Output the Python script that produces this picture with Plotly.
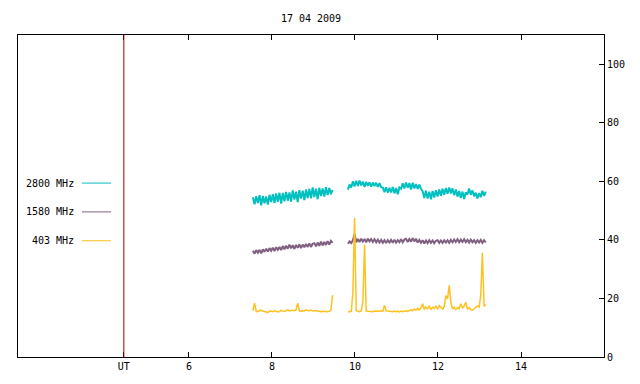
import plotly.graph_objects as go

# ---- data ----
title_text = "17 04 2009"
sample_step_h = 0.04
seg1_start_h = 7.54
seg2_start_h = 9.83
ut_marker_h = 4.43

x_tick_vals = [ut_marker_h, 6, 8, 10, 12, 14]
x_tick_text = ["UT", "6", "8", "10", "12", "14"]
y_tick_vals = [0, 20, 40, 60, 80, 100]

series_names = ["2800 MHz", "1580 MHz", "403 MHz"]
series_colors = ["#00c0c0", "#806080", "#ffc020"]
series_widths = [2, 2, 1.5]

f2800_seg1 = [54.6, 52.2, 54.9, 52.6, 55.3, 51.8, 55.0, 52.5, 54.8, 52.1, 55.4, 52.9, 55.6, 52.6,
              55.9, 53.0, 56.1, 52.4, 56.0, 53.2, 56.4, 53.4, 56.2, 53.1, 56.9, 53.8, 56.5, 52.9,
              57.0, 54.1, 56.8, 53.6, 57.2, 54.3, 57.4, 54.2, 57.9, 54.6, 57.5, 53.9, 57.8, 55.0,
              57.6, 54.8, 58.0, 55.3, 57.7, 55.6, 57.1]
f2800_seg2 = [57.2, 58.9, 57.9, 60.0, 58.3, 60.2, 58.4, 60.3, 58.6, 59.9, 58.1, 59.8, 58.5, 59.7,
              58.2, 59.6, 58.4, 59.5, 58.1, 59.4, 58.0, 57.9, 56.3, 58.0, 56.1, 57.8, 56.2, 58.1,
              55.9, 57.7, 55.6, 57.9, 57.5, 59.3, 57.6, 59.6, 57.8, 59.4, 57.2, 59.5, 57.6, 59.1,
              57.4, 58.9, 57.5, 56.6, 54.3, 56.8, 54.1, 56.5, 53.9, 56.7, 54.5, 57.0, 54.8, 57.2,
              55.1, 57.5, 55.4, 57.7, 55.8, 57.9, 55.9, 57.6, 55.3, 57.2, 54.8, 56.7, 54.3, 56.5,
              54.0, 56.2, 55.5, 57.6, 55.4, 56.9, 54.9, 56.1, 54.2, 56.0, 54.6, 56.8, 55.0, 56.5]

f1580_seg1 = [36.3, 35.3, 36.5, 35.6, 36.6, 35.4, 36.8, 35.9, 37.0, 36.0, 37.2, 36.3, 37.3, 36.2,
              37.5, 36.6, 37.6, 36.5, 37.9, 36.8, 38.0, 37.0, 38.4, 37.1, 38.2, 36.9, 38.3, 37.3,
              38.5, 37.2, 38.4, 37.5, 38.6, 37.6, 38.8, 37.6, 38.7, 38.9, 37.8, 39.1, 38.0, 39.4,
              38.1, 39.3, 38.3, 39.6, 38.4, 39.7, 39.0]
f1580_seg2 = [38.7, 39.5, 38.9, 39.9, 42.0, 39.2, 40.3, 39.3, 40.4, 39.4, 40.3, 39.2, 40.4, 39.5,
              40.3, 39.3, 40.2, 39.2, 40.1, 39.1, 40.0, 39.0, 39.9, 38.9, 39.9, 39.1, 40.0, 39.0,
              40.1, 39.1, 39.9, 39.2, 40.2, 39.2, 40.1, 40.4, 39.3, 40.3, 39.4, 40.6, 39.5, 40.4,
              39.1, 40.0, 39.0, 39.9, 38.8, 39.8, 38.9, 39.9, 39.0, 39.8, 38.9, 39.7, 39.9, 39.0,
              39.8, 39.0, 39.9, 39.1, 39.9, 39.0, 40.0, 39.2, 40.1, 39.3, 40.2, 39.2, 40.1, 39.3,
              40.2, 39.2, 40.0, 39.1, 40.1, 39.2, 39.9, 39.0, 39.9, 39.1, 40.0, 39.0, 39.9, 39.1]

f403_seg1 = [15.8, 18.4, 15.6, 15.5, 15.9, 16.0, 15.7, 15.6, 15.3, 15.2, 15.6, 15.7, 15.5, 15.8,
             15.6, 15.4, 15.5, 15.9, 15.7, 15.6, 15.8, 16.2, 15.7, 15.9, 16.0, 15.8, 16.1, 18.4,
             15.7, 15.6, 15.8, 15.7, 16.1, 15.9, 15.8, 16.0, 15.7, 15.9, 15.8, 15.6, 15.7, 15.5,
             15.6, 15.5, 15.6, 15.5, 15.6, 16.0, 21.1]
f403_seg2 = [15.4, 15.5, 15.6, 22.3, 47.5, 15.8, 15.6, 15.5, 15.7, 19.0, 38.3, 15.7, 15.6, 15.5,
             15.6, 15.5, 15.7, 15.6, 15.5, 15.6, 15.8, 15.7, 17.6, 15.8, 15.7, 15.6, 15.4, 15.5,
             15.7, 15.5, 15.6, 15.4, 15.7, 15.5, 15.6, 15.8, 15.6, 15.9, 16.2, 15.8, 16.4, 16.0,
             16.6, 16.1, 16.8, 18.2, 16.3, 17.1, 16.4, 17.5, 16.2, 17.0, 16.6, 17.3, 16.5, 17.6,
             16.8, 16.4, 17.2, 21.0, 19.8, 24.5, 18.6, 16.4, 17.0, 16.2, 16.9, 16.5, 18.2, 16.8,
             17.4, 18.7, 16.5, 16.9, 16.2, 16.0, 16.4, 16.8, 17.5, 16.9, 21.0, 35.6, 17.4, 17.9]

series_values = [(f2800_seg1, f2800_seg2), (f1580_seg1, f1580_seg2), (f403_seg1, f403_seg2)]

# ---- layout geometry ----
W, H = 640, 384
ML, MR, MT, MB = 18, 36, 35, 25
PW, PH = W - ML - MR, H - MT - MB
FONT = "DejaVu Sans Mono"


def times(start, n):
    return [round(start + sample_step_h * i, 4) for i in range(n)]


def px(x):
    return (x - ML) / PW


def py(y):
    return (H - MB - y) / PH


fig = go.Figure()

for name, color, width, (s1, s2) in zip(series_names, series_colors, series_widths, series_values):
    xs = times(seg1_start_h, len(s1)) + [None] + times(seg2_start_h, len(s2))
    ys = s1 + [None] + s2
    fig.add_trace(go.Scatter(x=xs, y=ys, mode="lines", name=name,
                             line=dict(color=color, width=width), showlegend=False,
                             connectgaps=False))

# UT marker line
fig.add_shape(type="line", x0=ut_marker_h, x1=ut_marker_h, y0=0, y1=1,
              xref="x", yref="paper", line=dict(color="#a00000", width=1), layer="above")

# custom legend (text on the left, sample line on the right)
legend_rows_px = [184, 213, 242]
for name, color, ypix in zip(series_names, series_colors, legend_rows_px):
    fig.add_annotation(x=px(76), y=py(ypix), xref="paper", yref="paper", text=name,
                       showarrow=False, xanchor="right", yanchor="middle",
                       font=dict(family=FONT, size=10, color="black"))
    fig.add_shape(type="line", x0=px(82), x1=px(111), y0=py(ypix), y1=py(ypix),
                  xref="paper", yref="paper", line=dict(color=color, width=1))

fig.update_layout(
    width=W, height=H,
    margin=dict(l=ML, r=MR, t=MT, b=MB, pad=0),
    paper_bgcolor="white", plot_bgcolor="white",
    font=dict(family=FONT, size=10, color="black"),
    title=dict(text=title_text, x=(ML + PW / 2) / W, xanchor="center",
               y=1 - 18 / H, yanchor="middle", font=dict(family=FONT, size=10)),
    xaxis=dict(range=[1.88, 16.0], tickmode="array", tickvals=x_tick_vals, ticktext=x_tick_text,
               ticks="inside", ticklen=5, tickcolor="black", showgrid=False, zeroline=False,
               showline=True, linecolor="black", linewidth=1, mirror="ticks",
               tickfont=dict(family=FONT, size=10)),
    yaxis=dict(range=[0, 110], side="right", tickmode="array", tickvals=y_tick_vals,
               ticks="inside", ticklen=5, tickcolor="black", showgrid=False, zeroline=False,
               showline=True, linecolor="black", linewidth=1, mirror=True,
               tickfont=dict(family=FONT, size=10)),
)

fig.write_html("out.html", config={"displayModeBar": False},
               post_script="document.body.style.margin='0';")
